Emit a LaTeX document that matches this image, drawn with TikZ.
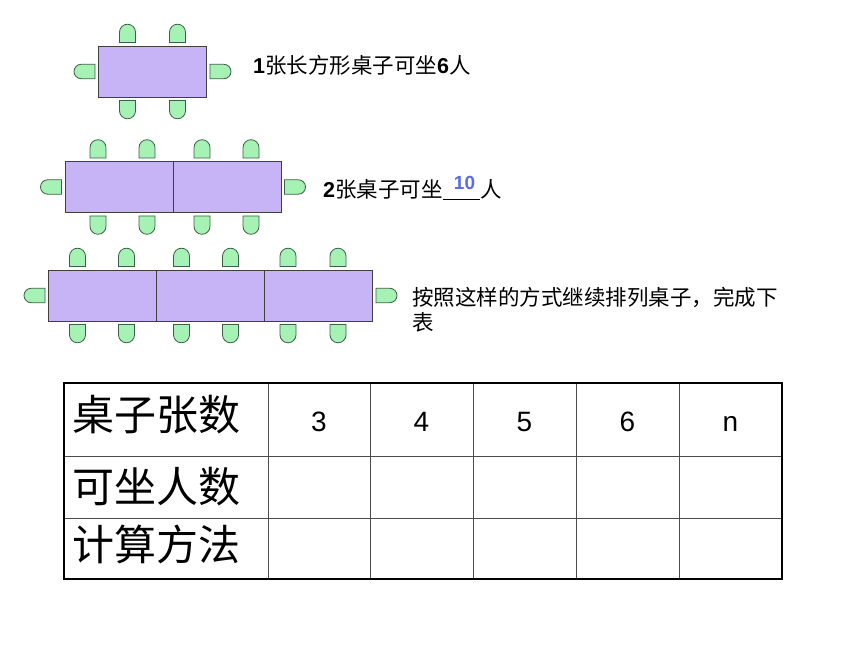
\documentclass[tikz,border=0pt]{standalone}
\usepackage{fontspec}
\setmainfont{Liberation Sans}
\newfontfamily\cjk{Noto Sans CJK SC}
\usetikzlibrary{calc, positioning}

\definecolor{deskfill}{HTML}{C6B4F6}
\definecolor{deskline}{HTML}{3F3F3F}
\definecolor{seatfill}{HTML}{A6F2B5}
\definecolor{seatline}{HTML}{3D5F45}
\definecolor{answerblue}{HTML}{5B6CE8}

\tikzset{
  desk/.style={draw=deskline, fill=deskfill, line width=0.9pt, minimum width=108pt, minimum height=51pt, inner sep=0pt, outer sep=0pt},
  seat/.style={draw=seatline, fill=seatfill, line width=0.8pt},
  note/.style={inner sep=0pt, font=\fontsize{21.5}{25}\selectfont},
  answer/.style={inner sep=0pt, text=answerblue, font=\fontsize{19}{23}\selectfont\bfseries},
  head/.style={inner sep=0pt, font=\fontsize{42}{48}\selectfont\cjk},
  num/.style={inner sep=0pt, font=\fontsize{28}{32}\selectfont},
  frame/.style={line width=2.6pt},
  gridline/.style={draw=black!70, line width=1pt},
  chair/.pic={\draw[seat] (-8,3.5) -- (-8,13.8) arc[start angle=180, end angle=0, radius=8pt] -- (8,3.5) -- cycle;},
  endchair/.pic={\draw[seat] (-7.2,3.5) -- (-7.2,17.3) arc[start angle=180, end angle=0, radius=7.2pt] -- (7.2,3.5) -- cycle;}
}

\begin{document}
\begin{tikzpicture}[x=1pt, y=1pt]
    \fill[white] (0,0) rectangle (860,645);
    \useasboundingbox (0,0) rectangle (860,645);

    % desks
    \node[desk] (a1) at (152.5,573.5) {};
    \node[desk] (b1) at (119,458) {};
    \node[desk, right=0pt of b1] (b2) {};
    \node[desk] (c1) at (102.5,349.5) {};
    \node[desk, right=0pt of c1] (c2) {};
    \node[desk, right=0pt of c2] (c3) {};

    % chairs
    \foreach \d/\p/\q in {a1/29/79, b1/33/82, b2/29/78, c1/29/78, c2/25/74, c3/23.5/73.5} {
      \pic at ($(\d.north west)+(\p,0)$) {chair};
      \pic at ($(\d.north west)+(\q,0)$) {chair};
      \pic[rotate=180] at ($(\d.south west)+(\p,0)$) {chair};
      \pic[rotate=180] at ($(\d.south west)+(\q,0)$) {chair};
    }
    \foreach \d in {a1, b1, c1} \pic[rotate=90] at (\d.west) {endchair};
    \foreach \d in {a1, b2, c3} \pic[rotate=-90] at (\d.east) {endchair};

    % notes
    \node[note, anchor=base west] (one) at (253,571) {{\bfseries 1}{\cjk 张长方形桌子可坐}{\bfseries 6}{\cjk 人}};
    \node[note, anchor=base west] (two) at (323,447) {{\bfseries 2}{\cjk 张桌子可坐}};
    \node[note, anchor=base west, minimum width=37pt] (blank) at (two.base east) {};
    \node[note, anchor=base west] (ren) at (blank.base east) {\cjk 人};
    \draw[line width=1pt] ([yshift=-2pt]blank.base west) -- ([yshift=-2pt]blank.base east);
    \node[answer, anchor=base] (ten) at ([xshift=3pt, yshift=8pt]blank.base) {10};
    \node[note, anchor=base west] (rule1) at (412,339) {\cjk 按照这样的方式继续排列桌子，完成下};
    \node[note, anchor=base west] (rule2) at ([yshift=-25pt]rule1.base west) {\cjk 表};

    % table
    \foreach \x in {268, 370, 473, 576, 679} \draw[gridline] (\x,66) -- (\x,262);
    \foreach \y in {188, 126} \draw[gridline] (64,\y) -- (782,\y);
    \draw[frame] (64,66) rectangle (782,262);

    \node[head, anchor=base west] (count) at (72,214) {桌子张数};
    \node[head, anchor=base west] (seats) at (72,142) {可坐人数};
    \node[head, anchor=base west] (method) at (72,84) {计算方法};
    \foreach \x/\t in {319/3, 421.5/4, 524.5/5, 627.5/6, 730.5/n}
      \node[num, anchor=base] (col\t) at (\x,213) {\t};
\end{tikzpicture}
\end{document}
